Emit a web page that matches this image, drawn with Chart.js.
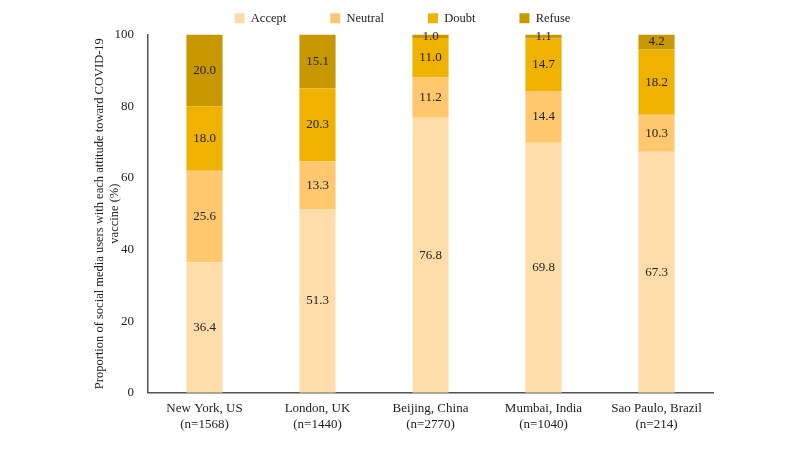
<!DOCTYPE html>
<html>
<head>
<meta charset="utf-8">
<script src="https://cdn.jsdelivr.net/npm/chart.js@4"></script>
<style>
  html, body { margin: 0; padding: 0; background: #fff; }
  #wrap { width: 800px; height: 457px; }
</style>
</head>
<body>
<div id="wrap"><canvas id="mycanvas" width="800" height="457"></canvas></div>
<script>
var cities = [["New York, US", "(n=1568)"], ["London, UK", "(n=1440)"], ["Beijing, China", "(n=2770)"], ["Mumbai, India", "(n=1040)"], ["Sao Paulo, Brazil", "(n=214)"]];
var accept = [36.4, 51.3, 76.8, 69.8, 67.3];
var neutral = [25.6, 13.3, 11.2, 14.4, 10.3];
var doubt = [18.0, 20.3, 11.0, 14.7, 18.2];
var refuse = [20.0, 15.1, 1.0, 1.1, 4.2];
var yTicks = [0, 20, 40, 60, 80, 100];

var serif = "'Liberation Serif', 'Times New Roman', serif";

// writes the value in the middle of each segment
var valueLabels = {
  id: "valueLabels",
  afterDatasetsDraw: function(chart) {
    var ctx = chart.ctx;
    ctx.save();
    ctx.font = "13px " + serif;
    ctx.fillStyle = "#222";
    ctx.textAlign = "center";
    ctx.textBaseline = "middle";
    chart.data.datasets.forEach(function(ds, i) {
      var meta = chart.getDatasetMeta(i);
      meta.data.forEach(function(bar, j) {
        var mid = (bar.y + bar.base) / 2;
        ctx.fillText(ds.data[j].toFixed(1), bar.x, mid);
      });
    });
    ctx.restore();
  }
};

var chartdata = {
  labels: cities,
  datasets: [
    { label: "Accept", data: accept, backgroundColor: "rgb(255, 221, 170)" },
    { label: "Neutral", data: neutral, backgroundColor: "rgb(255, 200, 110)" },
    { label: "Doubt", data: doubt, backgroundColor: "rgb(240, 178, 0)" },
    { label: "Refuse", data: refuse, backgroundColor: "rgb(200, 152, 0)" }
  ]
};

var ctx = document.getElementById("mycanvas");

var BarGraph = new Chart(ctx, {
  type: "bar",
  data: chartdata,
  plugins: [valueLabels],
  options: {
    responsive: false,
    animation: false,
    layout: { padding: { left: 92, right: 87, top: -32, bottom: 25 } },
    datasets: { bar: { categoryPercentage: 1, barPercentage: 0.32 } },
    plugins: {
      tooltip: { enabled: false },
      legend: {
        position: "top",
        labels: {
          boxWidth: 10,
          boxHeight: 10,
          padding: 44,
          color: "#222",
          font: { family: serif, size: 12.5 }
        }
      }
    },
    scales: {
      x: {
        stacked: true,
        grid: { display: false },
        border: { display: true, color: "#555", width: 1.5 },
        ticks: { color: "#222", font: { family: serif, size: 13 }, padding: 0, maxRotation: 0 }
      },
      y: {
        stacked: true,
        min: 0,
        max: 100,
        afterBuildTicks: function(scale) {
          scale.ticks = yTicks.map(function(v) { return { value: v }; });
        },
        afterFit: function(scale) { scale.width = 56; },
        grid: { display: false },
        border: { display: true, color: "#555", width: 1.5 },
        ticks: { color: "#222", font: { family: serif, size: 13 }, padding: 6 },
        title: {
          display: true,
          text: ["Proportion of social media users with each attitude toward COVID-19", "vaccine (%)"],
          color: "#222",
          font: { family: serif, size: 12.5 },
          padding: { top: 0, bottom: 0 }
        }
      }
    }
  }
});
</script>
</body>
</html>
